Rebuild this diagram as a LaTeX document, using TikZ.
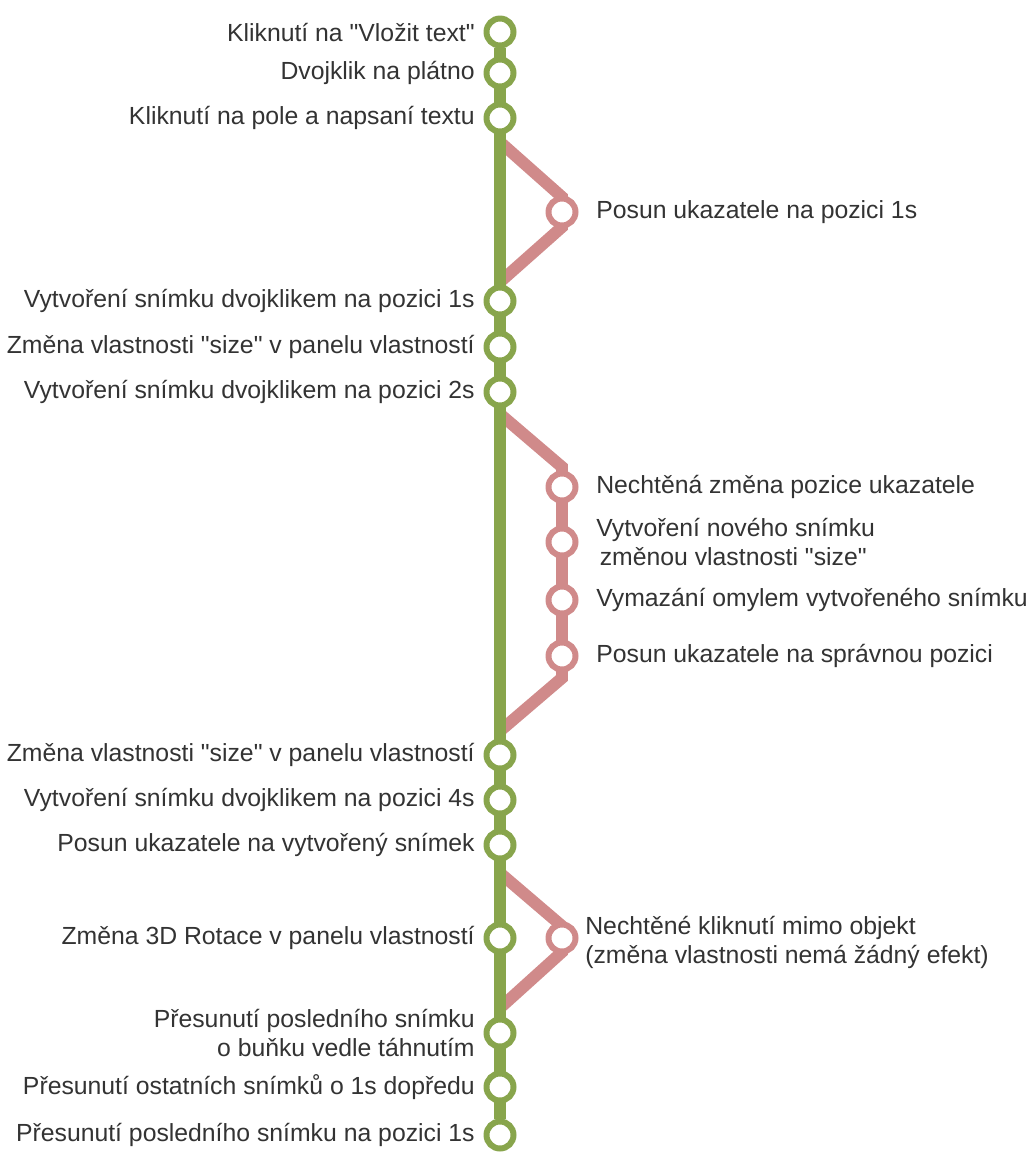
\documentclass[tikz,border=0pt]{standalone}
\usepackage{fontspec}
\newfontfamily\labelfont{Liberation Sans}
\usetikzlibrary{positioning,backgrounds}
\definecolor{trackgreen}{RGB}{136,165,76}
\definecolor{trackpink}{RGB}{208,138,138}
\definecolor{textgray}{RGB}{51,51,51}
\begin{document}
\begin{tikzpicture}[x=0.02cm, y=-0.02cm,
    station/.style={
        circle,
        draw=#1, line width=3.4pt,
        fill=white,
        minimum size=0.54cm,
        inner sep=0pt},
    track/.style={
        draw=#1,
        line width=6.8pt,
        line join=miter},
    lefttext/.style={
        text=textgray,
        font=\labelfont\fontsize{14.1}{16}\selectfont,
        inner sep=0pt,
        align=right},
    righttext/.style={
        text=textgray,
        font=\labelfont\fontsize{14.1}{16.5}\selectfont,
        inner sep=0pt,
        align=left}
    ]

    \useasboundingbox (0,0) rectangle (1030,1153);

    % main line
    \node (g1) [station=trackgreen] at (500,32) {};
    \node (g2) [station=trackgreen] at (500,73) {};
    \node (g3) [station=trackgreen] at (500,118) {};
    \node (g4) [station=trackgreen] at (500,301) {};
    \node (g5) [station=trackgreen] at (500,347) {};
    \node (g6) [station=trackgreen] at (500,392) {};
    \node (g7) [station=trackgreen] at (500,755) {};
    \node (g8) [station=trackgreen] at (500,800) {};
    \node (g9) [station=trackgreen] at (500,845) {};
    \node (g10) [station=trackgreen] at (500,938) {};
    \node (g11) [station=trackgreen] at (500,1033) {};
    \node (g12) [station=trackgreen] at (500,1087) {};
    \node (g13) [station=trackgreen] at (500,1135) {};

    % side branches
    \node (p1) [station=trackpink] at (562,212) {};
    \node (p2) [station=trackpink] at (562,487) {};
    \node (p3) [station=trackpink] at (562,542) {};
    \node (p4) [station=trackpink] at (562,600) {};
    \node (p5) [station=trackpink] at (562,656) {};
    \node (p6) [station=trackpink] at (562,938) {};

    \coordinate (a1) at (500,142);
    \coordinate (b1) at (562,197);
    \coordinate (c1) at (562,227);
    \coordinate (d1) at (500,282);
    \coordinate (a2) at (500,414);
    \coordinate (b2) at (562,467);
    \coordinate (c2) at (562,678);
    \coordinate (d2) at (500,731);
    \coordinate (a3) at (500,873);
    \coordinate (b3) at (562,926);
    \coordinate (c3) at (562,952);
    \coordinate (d3) at (500,1008);

    \begin{scope}[on background layer]
    \draw [track=trackpink] (a1) -- (b1) -- (p1.center) -- (c1) -- (d1);
    \draw [track=trackpink] (a2) -- (b2) -- (p2.center) -- (p3.center)
        -- (p4.center) -- (p5.center) -- (c2) -- (d2);
    \draw [track=trackpink] (a3) -- (b3) -- (p6.center) -- (c3) -- (d3);
    \draw [track=trackgreen] (g1) -- (g13);
    \end{scope}

    % labels
    \node (t1) [lefttext, left=0.17cm of g1] {Kliknutí na "Vložit text"};
    \node (t2) [lefttext, left=0.17cm of g2] {Dvojklik na plátno};
    \node (t3) [lefttext, left=0.17cm of g3] {Kliknutí na pole a napsaní textu};
    \node (t4) [lefttext, left=0.17cm of g4] {Vytvoření snímku dvojklikem na pozici 1s};
    \node (t5) [lefttext, left=0.17cm of g5] {Změna vlastnosti "size" v panelu vlastností};
    \node (t6) [lefttext, left=0.17cm of g6] {Vytvoření snímku dvojklikem na pozici 2s};
    \node (t7) [lefttext, left=0.17cm of g7] {Změna vlastnosti "size" v panelu vlastností};
    \node (t8) [lefttext, left=0.17cm of g8] {Vytvoření snímku dvojklikem na pozici 4s};
    \node (t9) [lefttext, left=0.17cm of g9] {Posun ukazatele na vytvořený snímek};
    \node (t10) [lefttext, left=0.17cm of g10] {Změna 3D Rotace v panelu vlastností};
    \node (t11) [lefttext, left=0.17cm of g11] {Přesunutí posledního snímku\\o buňku vedle táhnutím};
    \node (t12) [lefttext, left=0.17cm of g12] {Přesunutí ostatních snímků o 1s dopředu};
    \node (t13) [lefttext, left=0.17cm of g13] {Přesunutí posledního snímku na pozici 1s};

    \node (s1) [righttext, right=0.35cm of p1] {Posun ukazatele na pozici 1s};
    \node (s2) [righttext, right=0.35cm of p2] {Nechtěná změna pozice ukazatele};
    \node (s3) [righttext, right=0.35cm of p3] {Vytvoření nového snímku\\\kern2pt změnou vlastnosti "size"};
    \node (s4) [righttext, right=0.35cm of p4] {Vymazání omylem vytvořeného snímku};
    \node (s5) [righttext, right=0.35cm of p5] {Posun ukazatele na správnou pozici};
    \node (s6) [righttext, right=0.13cm of p6, yshift=-0.08cm] {Nechtěné kliknutí mimo objekt\\(změna vlastnosti nemá žádný efekt)};

\end{tikzpicture}
\end{document}
